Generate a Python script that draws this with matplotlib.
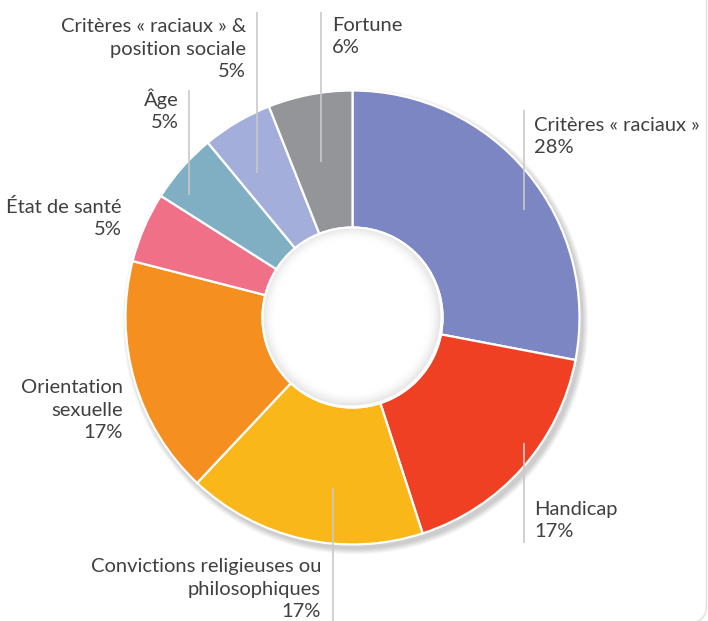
import matplotlib
matplotlib.use("Agg")
import matplotlib.pyplot as plt
from matplotlib.patches import Wedge, Circle, FancyBboxPatch

# Data
categories = [
    "Critères « raciaux »",
    "Handicap",
    "Convictions religieuses ou\nphilosophiques",
    "Orientation\nsexuelle",
    "État de santé",
    "Âge",
    "Critères « raciaux » &\nposition sociale",
    "Fortune",
]
shares = [28, 17, 17, 17, 5, 5, 5, 6]
colors = ["#7b86c2", "#f04023", "#fab719", "#f58f20",
          "#f07088", "#80afc3", "#a3aedb", "#939598"]

W, H = 708, 621
fig = plt.figure(figsize=(W / 100, H / 100), dpi=100)
ax = fig.add_axes([0, 0, 1, 1])
ax.set_xlim(0, W)
ax.set_ylim(0, H)
ax.axis("off")

plt.rcParams["font.family"] = ["Lato", "DejaVu Sans"]

cx, cy = 352.5, H - 317.5
r_out, r_in = 227, 90

# soft drop shadow under the ring
for d in range(10, 0, -1):
    ax.add_patch(Wedge((cx + 3, cy - 4), r_out + d * 0.6, 0, 360,
                       width=r_out + d * 0.6 - r_in - 4, color="#000000",
                       alpha=0.018, lw=0, zorder=1))

wedges, _ = ax.pie(shares, colors=colors, startangle=90, counterclock=False,
                   center=(cx, cy), radius=r_out,
                   wedgeprops=dict(width=r_out - r_in, edgecolor="white",
                                   linewidth=1.6))
for w in wedges:
    w.set_zorder(2)
ax.set_xlim(0, W)
ax.set_ylim(0, H)
ax.set_aspect("equal")

# white hole with a soft inner shading
ax.add_patch(Circle((cx, cy), r_in, color="white", lw=0, zorder=2.5))
for d in range(14):
    a = 0.10 * (1 - d / 14) ** 2
    ax.add_patch(Wedge((cx - 1, cy + 1), r_in - 1 - d, 0, 360, width=1.0,
                       color="#000000", alpha=a, lw=0, zorder=3))
ax.add_patch(Circle((cx, cy), r_in, fill=False, edgecolor="white", lw=1.6,
                    zorder=4))

# label layout: (x, baseline of last line, ha, leader x, leader top, leader bottom)
txt_color = "#404040"
line_col = "#c9c9c9"
fs = 14.5
layout = [
    (534, 153, "left", 523.5, 110, 210),
    (534, 537, "left", 523.5, 443, 543),
    (321, 617, "right", 333, 488, 621),
    (123, 438, "right", None, None, None),
    (122, 235, "right", None, None, None),
    (179, 128, "right", 189, 90, 195),
    (246, 77, "right", 257, 12, 173),
    (332, 53, "left", 321, 12, 162),
]
for cat, val, (x, yb, ha, lx, lt, lb) in zip(categories, shares, layout):
    ax.text(x, H - yb, f"{cat}\n{val}%", ha=ha, va="baseline",
            fontsize=fs, color=txt_color, linespacing=1.38,
            multialignment=ha, zorder=5)
    if lx is not None:
        ax.plot([lx, lx], [H - lt, H - lb], color=line_col, lw=1.2,
                solid_capstyle="butt", zorder=5)

# faint panel outline on the right edge
ax.add_patch(FancyBboxPatch((-40, -2), W - 1.5 + 40, H + 60,
                            boxstyle="round,pad=0,rounding_size=18",
                            fill=False, edgecolor="#e2e2e2", lw=1.2,
                            zorder=0, clip_on=False))

fig.savefig("out.png", dpi=100)
